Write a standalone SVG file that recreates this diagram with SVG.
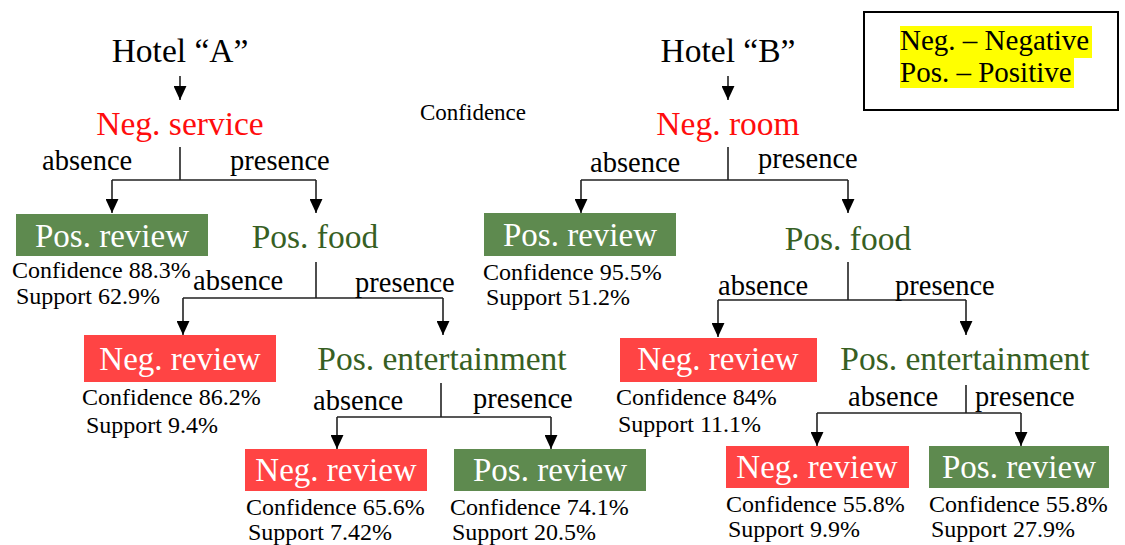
<svg xmlns="http://www.w3.org/2000/svg" width="1125" height="545" viewBox="0 0 1125 545">
<defs>
<marker id="ahd" markerUnits="userSpaceOnUse" markerWidth="13" markerHeight="14" refX="6" refY="13" viewBox="0 0 12 13">
<path d="M0,0 L12,0 L6,13 z" fill="#000"/>
</marker>
</defs>
<style>
text{font-family:"Liberation Serif","Times New Roman",serif;}
.title{font-size:33.5px;fill:#000;text-anchor:middle;}
.neg{font-size:33.5px;fill:#ff0d0d;text-anchor:middle;}
.pos{font-size:33.5px;fill:#375f23;text-anchor:middle;}
.lbl{font-size:28.5px;fill:#000;}
.stat{font-size:24px;fill:#000;}
.boxt{font-size:33px;fill:#fff;text-anchor:middle;}
.gbox{fill:#5e8a4f;}
.rbox{fill:#ff4444;}
.ln{stroke:#222;stroke-width:1.6;fill:none;}
.ar{stroke:#222;stroke-width:1.6;fill:none;marker-end:url(#ahd);}
.leg{font-size:29px;fill:#000;}
</style>
<rect width="1125" height="545" fill="#fff"/>

<g id="connectors">
<line class="ar" x1="180" y1="76" x2="180" y2="100"/>
<path class="ln" d="M180 147 V180 M112 180 H316"/>
<line class="ar" x1="112" y1="180" x2="112" y2="213"/>
<line class="ar" x1="316" y1="180" x2="316" y2="213"/>
<path class="ln" d="M316 262 V298 M183 298 H443"/>
<line class="ar" x1="183" y1="298" x2="183" y2="335"/>
<line class="ar" x1="443" y1="298" x2="443" y2="335"/>
<path class="ln" d="M441 383 V417 M337 417 H551"/>
<line class="ar" x1="337" y1="417" x2="337" y2="449"/>
<line class="ar" x1="551" y1="417" x2="551" y2="449"/>

<line class="ar" x1="728" y1="76" x2="728" y2="100"/>
<path class="ln" d="M728 147 V180 M581 180 H848"/>
<line class="ar" x1="581" y1="180" x2="581" y2="213"/>
<line class="ar" x1="848" y1="180" x2="848" y2="213"/>
<path class="ln" d="M848 262 V300 M718 300 H966"/>
<line class="ar" x1="718" y1="300" x2="718" y2="337"/>
<line class="ar" x1="966" y1="300" x2="966" y2="335"/>
<path class="ln" d="M966 385 V413 M817 413 H1021"/>
<line class="ar" x1="817" y1="413" x2="817" y2="446"/>
<line class="ar" x1="1021" y1="413" x2="1021" y2="446"/>
</g>

<g id="edge-labels">
<text class="lbl" x="42" y="170">absence</text>
<text class="lbl" x="230" y="170">presence</text>
<text class="lbl" x="193" y="290">absence</text>
<text class="lbl" x="355" y="292">presence</text>
<text class="lbl" x="313" y="410">absence</text>
<text class="lbl" x="473" y="408">presence</text>
<text class="lbl" x="590" y="172">absence</text>
<text class="lbl" x="758" y="168">presence</text>
<text class="lbl" x="718" y="295">absence</text>
<text class="lbl" x="895" y="295">presence</text>
<text class="lbl" x="848" y="406">absence</text>
<text class="lbl" x="975" y="406">presence</text>
</g>

<g id="hotelA"><text class="title" x="180" y="62">Hotel “A”</text></g>
<g id="negService"><text class="neg" x="180" y="135">Neg. service</text></g>
<g id="A-posReview1">
<rect class="gbox" x="16" y="214" width="192" height="42"/>
<text class="boxt" x="112" y="247">Pos. review</text>
<text class="stat" x="12" y="278">Confidence 88.3%</text>
<text class="stat" x="16" y="304">Support 62.9%</text>
</g>
<g id="A-posFood"><text class="pos" x="315" y="248">Pos. food</text></g>
<g id="A-negReview1">
<rect class="rbox" x="84" y="335" width="192" height="47"/>
<text class="boxt" x="180" y="370">Neg. review</text>
<text class="stat" x="82" y="405">Confidence 86.2%</text>
<text class="stat" x="86" y="433">Support 9.4%</text>
</g>
<g id="A-posEnt"><text class="pos" x="442" y="370">Pos. entertainment</text></g>
<g id="A-negReview2">
<rect class="rbox" x="245" y="449" width="182" height="42"/>
<text class="boxt" x="336" y="481">Neg. review</text>
<text class="stat" x="246" y="515">Confidence 65.6%</text>
<text class="stat" x="248" y="540">Support 7.42%</text>
</g>
<g id="A-posReview2">
<rect class="gbox" x="454" y="449" width="192" height="42"/>
<text class="boxt" x="550" y="481">Pos. review</text>
<text class="stat" x="450" y="515">Confidence 74.1%</text>
<text class="stat" x="452" y="540">Support 20.5%</text>
</g>

<g id="confidenceLabel"><text class="stat" x="420" y="120" style="font-size:23px">Confidence</text></g>

<g id="hotelB"><text class="title" x="728" y="62">Hotel “B”</text></g>
<g id="negRoom"><text class="neg" x="728" y="135">Neg. room</text></g>
<g id="B-posReview1">
<rect class="gbox" x="484" y="213" width="192" height="43"/>
<text class="boxt" x="580" y="246">Pos. review</text>
<text class="stat" x="483" y="280">Confidence 95.5%</text>
<text class="stat" x="486" y="305">Support 51.2%</text>
</g>
<g id="B-posFood"><text class="pos" x="848" y="250">Pos. food</text></g>
<g id="B-negReview1">
<rect class="rbox" x="620" y="338" width="197" height="44"/>
<text class="boxt" x="718" y="370">Neg. review</text>
<text class="stat" x="616" y="405">Confidence 84%</text>
<text class="stat" x="618" y="432">Support 11.1%</text>
</g>
<g id="B-posEnt"><text class="pos" x="965" y="370">Pos. entertainment</text></g>
<g id="B-negReview2">
<rect class="rbox" x="726" y="446" width="183" height="42"/>
<text class="boxt" x="817" y="478">Neg. review</text>
<text class="stat" x="726" y="512">Confidence 55.8%</text>
<text class="stat" x="728" y="537">Support 9.9%</text>
</g>
<g id="B-posReview2">
<rect class="gbox" x="929" y="446" width="180" height="42"/>
<text class="boxt" x="1019" y="478">Pos. review</text>
<text class="stat" x="929" y="512">Confidence 55.8%</text>
<text class="stat" x="931" y="537">Support 27.9%</text>
</g>

<g id="legend">
<rect x="864" y="12" width="254" height="98" fill="#fff" stroke="#000" stroke-width="2"/>
<rect x="900" y="26" width="192" height="32" fill="#ffff00"/>
<rect x="900" y="58" width="174" height="30" fill="#ffff00"/>
<text class="leg" x="900" y="50">Neg. – Negative</text>
<text class="leg" x="900" y="82">Pos. – Positive</text>
</g>
</svg>
